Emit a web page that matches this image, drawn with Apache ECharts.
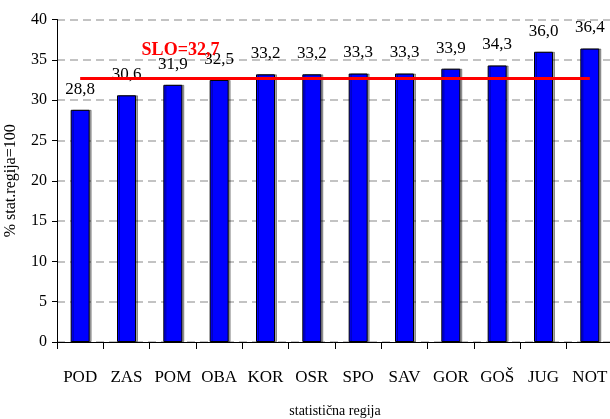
<!DOCTYPE html>
<html><head><meta charset="utf-8">
<script src="https://cdn.jsdelivr.net/npm/echarts@6/dist/echarts.min.js"></script>
<style>html,body{margin:0;padding:0;background:#fff}#c{width:610px;height:419px}</style>
</head><body><div id="c"></div>
<script>
var categories = ['POD','ZAS','POM','OBA','KOR','OSR','SPO','SAV','GOR','GOŠ','JUG','NOT'];
var values = [28.8, 30.6, 31.9, 32.5, 33.2, 33.2, 33.3, 33.3, 33.9, 34.3, 36.0, 36.4];
var sloValue = 32.7;
var yTicks = [0, 5, 10, 15, 20, 25, 30, 35, 40];

var fmt = function (v) { return v.toFixed(1).replace('.', ','); };
var serif = 'Liberation Serif';

var chart = echarts.init(document.getElementById('c'), null, {renderer: 'canvas'});
chart.setOption({
  animation: false,
  grid: {left: 57, top: 19.5, width: 556, height: 322.5, containLabel: false, outerBoundsMode: 'none'},
  xAxis: {
    type: 'category',
    data: categories,
    name: 'statistična regija',
    nameLocation: 'middle',
    nameGap: 62,
    nameTextStyle: {fontFamily: serif, fontSize: 14, color: '#000'},
    axisLine: {lineStyle: {color: '#000', width: 1}},
    axisTick: {show: true, interval: 0, length: 7, lineStyle: {color: '#000'}},
    axisLabel: {interval: 0, fontFamily: serif, fontSize: 17, color: '#000', margin: 27},
    splitLine: {show: false}
  },
  yAxis: {
    type: 'value',
    min: yTicks[0],
    max: yTicks[yTicks.length - 1],
    interval: yTicks[1] - yTicks[0],
    name: '% stat.regija=100',
    nameLocation: 'middle',
    nameGap: 38,
    nameTextStyle: {fontFamily: serif, fontSize: 16, color: '#000'},
    axisLine: {show: true, lineStyle: {color: '#000', width: 1}},
    axisTick: {show: true, length: 5, lineStyle: {color: '#000'}},
    axisLabel: {fontFamily: serif, fontSize: 16, color: '#000', margin: 10},
    splitLine: {show: true, lineStyle: {color: '#b0b0b0', type: [8, 5], width: 1.5}}
  },
  series: [{
    type: 'bar',
    data: values,
    barWidth: 19,
    itemStyle: {color: '#0000ff', borderColor: '#000', borderWidth: 1,
      shadowColor: 'rgba(0,0,0,0.35)', shadowOffsetX: 2, shadowOffsetY: 0, shadowBlur: 0},
    label: {show: true, position: 'top', distance: 12,
      fontFamily: serif, fontSize: 17, color: '#000',
      formatter: function (p) { return fmt(p.value); }},
    markLine: {
      silent: true,
      symbol: ['none', 'none'],
      label: {show: false},
      lineStyle: {color: '#ff0000', width: 3, type: 'solid'},
      data: [[{coord: [0, sloValue]}, {coord: [categories.length - 1, sloValue]}]]
    },
    markPoint: {
      silent: true,
      symbol: 'circle',
      symbolSize: 0,
      label: {show: true, position: 'inside', offset: [54, -28],
        fontFamily: serif, fontSize: 18, fontWeight: 'bold', color: '#ff0000',
        formatter: 'SLO=' + fmt(sloValue)},
      data: [{coord: [1, sloValue]}]
    }
  }]
});
</script></body></html>
